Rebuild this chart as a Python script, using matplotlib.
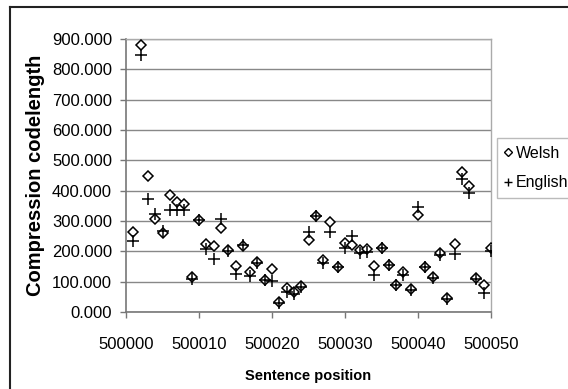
import matplotlib.pyplot as plt
from matplotlib.lines import Line2D

# sentence positions 500001..500050
positions = list(range(500001, 500051))

welsh = [263, 879, 448, 306, 260, 387, 363, 355, 115, 304,
         225, 217, 277, 204, 151, 217, 133, 165, 105, 142,
         32, 80, 65, 85, 239, 316, 172, 297, 150, 228,
         222, 204, 209, 151, 211, 156, 90, 133, 76, 321,
         150, 117, 196, 47, 224, 462, 417, 111, 89, 211]

english = [235, 846, 372, 322, 267, 337, 337, 337, 110, 304,
           209, 175, 306, 200, 125, 220, 119, 160, 105, 102,
           30, 67, 60, 82, 264, 318, 161, 264, 150, 211,
           249, 196, 197, 121, 211, 156, 90, 122, 73, 345,
           147, 113, 187, 44, 191, 439, 392, 108, 62, 201]

xticks = [500000, 500010, 500020, 500030, 500040, 500050]
yticks = [0, 100, 200, 300, 400, 500, 600, 700, 800, 900]

plt.rcParams['font.family'] = ['Liberation Sans', 'DejaVu Sans']

fig = plt.figure(figsize=(5.68, 3.89), dpi=100)
ax = fig.add_axes([126 / 568, 77 / 389, 365 / 568, 273 / 389])

ax.plot(positions, welsh, linestyle='none', marker='D', markersize=5,
        markerfacecolor='white', markeredgecolor='black', markeredgewidth=1.1,
        label='Welsh', zorder=3)
ax.plot(positions, english, linestyle='none', marker='+', markersize=8,
        color='black', markeredgewidth=1.1, label='English', zorder=4)

ax.set_xlim(500000, 500050)
ax.set_ylim(0, 900)
ax.set_xticks(xticks)
ax.set_xticklabels([str(t) for t in xticks])
ax.set_yticks(yticks)
ax.set_yticklabels(['%.3f' % t for t in yticks])
ax.tick_params(labelsize=12, direction='out', length=4, width=1, color='#777777')
ax.tick_params(axis='x', pad=14)
ax.tick_params(axis='y', pad=6)

ax.grid(axis='y', color='#888888', linewidth=1)
ax.set_axisbelow(True)
for side in ['top', 'right']:
    ax.spines[side].set_color('#aaaaaa')
    ax.spines[side].set_linewidth(1)
for side in ['left', 'bottom']:
    ax.spines[side].set_color('#777777')
    ax.spines[side].set_linewidth(1.2)

ax.set_ylabel('Compression codelength', fontsize=14.5, fontweight='bold', labelpad=5)
ax.set_xlabel('Sentence position', fontsize=10.5, fontweight='bold', labelpad=12)

handles = [
    Line2D([], [], linestyle='none', marker='D', markersize=4, markerfacecolor='white',
           markeredgecolor='black', markeredgewidth=1),
    Line2D([], [], linestyle='none', marker='+', markersize=6, color='black',
           markeredgewidth=1),
]
leg = fig.legend(handles, ['Welsh', 'English'], loc='upper left',
                 bbox_to_anchor=(497 / 568, 1 - 138 / 389), fontsize=11.5,
                 frameon=True, fancybox=False, handlelength=0.4, handletextpad=0.3,
                 borderpad=0.5, labelspacing=0.9, borderaxespad=0)
leg.get_frame().set_edgecolor('#aaaaaa')
leg.get_frame().set_linewidth(1)

# outer chart frame
fig.add_artist(Line2D([10 / 568, 10 / 568], [0, 1 - 7 / 389], color='#222222', linewidth=1.5))
fig.add_artist(Line2D([10 / 568, 1], [1 - 7 / 389, 1 - 7 / 389], color='#222222', linewidth=1.5))

fig.savefig('out.png', dpi=100)
